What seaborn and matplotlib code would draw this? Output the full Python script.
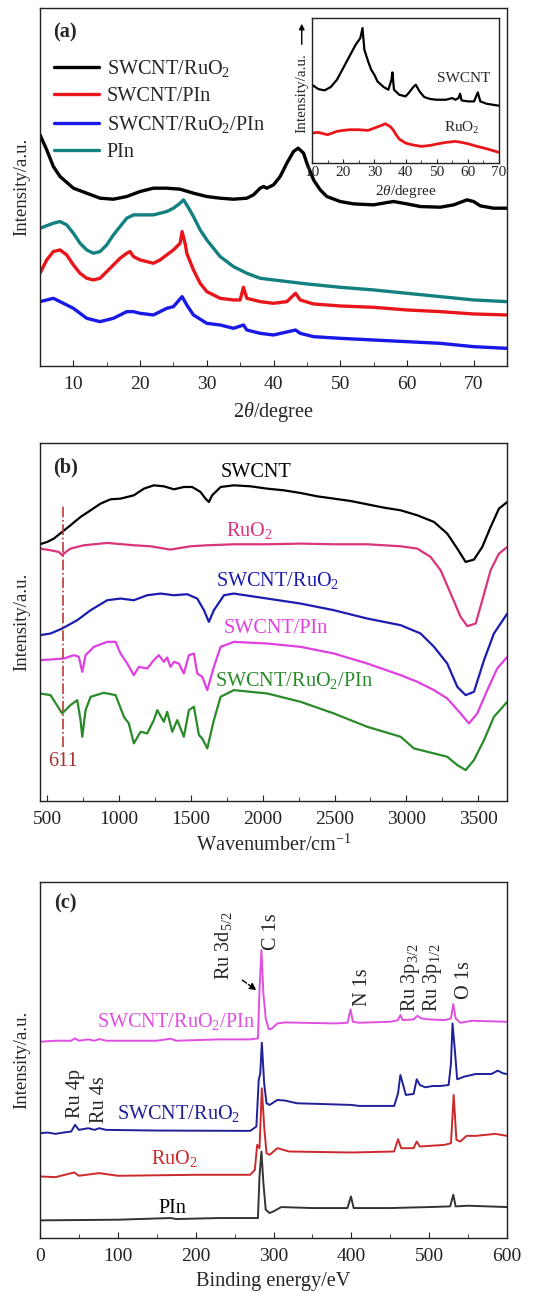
import numpy as np
import pandas as pd
import seaborn as sns
import matplotlib.pyplot as plt
from matplotlib.ticker import MultipleLocator

# ---------------- (a) XRD ----------------
xrd_ruo2_swcnt_x = [5, 6, 7, 8, 10, 12, 14, 16, 18, 20, 22, 24, 26, 28, 30, 32, 34, 36, 37, 38, 38.5, 39, 40, 41, 42,
                    43, 43.7, 44.5, 45, 46, 47, 48, 50, 52, 55, 57, 58, 60, 62, 65, 67, 69, 70, 71, 73, 75]
xrd_ruo2_swcnt_y = [693, 648, 598, 568, 533, 518, 503, 500, 508, 523, 533, 533, 530, 518, 508, 503, 500, 503, 513,
                    533, 538, 533, 543, 568, 608, 643, 653, 638, 608, 558, 528, 508, 493, 486, 483, 490, 493, 486,
                    478, 476, 483, 498, 493, 480, 473, 473]

xrd_pin_x = [5, 7, 8, 9, 10, 11, 12, 13, 14, 15, 16, 17, 18, 19, 20, 22, 24, 25, 26, 26.5, 27, 28, 29, 30, 32, 34,
             36, 38, 40, 45, 50, 55, 60, 65, 70, 75]
xrd_pin_y = [413, 428, 433, 423, 398, 368, 348, 338, 343, 363, 393, 418, 443, 453, 453, 453, 463, 473, 488, 498,
             483, 448, 408, 378, 328, 298, 278, 263, 258, 246, 236, 228, 218, 208, 198, 193]

xrd_swcnt_pin_x = [5, 6, 7, 8, 9, 10, 11, 12, 13, 14, 15, 16, 17, 18, 18.5, 19, 20, 22, 23, 24, 25, 26, 26.3, 26.8,
                   27, 28, 29, 30, 32, 34, 35, 35.5, 36, 38, 40, 42, 43.3, 44, 46, 50, 55, 60, 65, 70, 75]
xrd_swcnt_pin_y = [278, 318, 343, 348, 333, 303, 278, 263, 258, 263, 283, 303, 323, 338, 343, 328, 318, 308, 318,
                   333, 348, 368, 403, 363, 338, 288, 248, 223, 203, 198, 198, 236, 203, 193, 188, 193, 218, 198,
                   186, 180, 176, 168, 163, 156, 153]

xrd_all_x = [5, 7, 8, 10, 12, 14, 16, 18, 19, 20, 22, 24, 25, 26.3, 27, 28, 30, 32, 34, 35.5, 36, 38, 40, 43.3, 44,
             46, 50, 55, 60, 65, 70, 75]
xrd_all_y = [193, 203, 193, 173, 143, 133, 143, 163, 163, 158, 153, 173, 178, 208, 183, 153, 128, 123, 113, 123,
             108, 98, 93, 108, 98, 88, 83, 78, 73, 68, 58, 53]

# inset
inset_swcnt_x = [10, 12, 14, 16, 18, 20, 22, 24, 25.5, 26.2, 26.8, 28, 29, 30, 31, 33, 34.5, 35.5, 35.8, 36.3, 38,
                 40, 41, 42.5, 43.3, 44.5, 46, 48, 50, 53, 55, 56, 57, 57.5, 58, 60, 62, 63.2, 64, 66, 70]
inset_swcnt_y = [235, 222, 218, 228, 250, 285, 320, 355, 375, 405, 340, 305, 280, 265, 245, 228, 220, 250, 272,
                 220, 205, 200, 210, 228, 235, 215, 198, 192, 190, 190, 195, 190, 195, 208, 188, 185, 185, 212,
                 185, 178, 172]
inset_ruo2_x = [10, 12, 15, 18, 20, 22, 25, 28, 30, 32, 33.5, 35, 36, 37, 38, 40, 42, 45, 48, 50, 53, 56, 58, 60,
                63, 66, 70]
inset_ruo2_y = [90, 92, 85, 95, 98, 100, 100, 98, 105, 112, 118, 110, 100, 85, 72, 60, 55, 50, 53, 57, 62, 65, 62,
                58, 50, 43, 32]

# ---------------- (b) FTIR ----------------
ir_swcnt_x = [449, 500, 546, 604, 662, 732, 802, 871, 941, 1010, 1103, 1173, 1242, 1312, 1382, 1451, 1509, 1567,
              1602, 1625, 1648, 1707, 1799, 1915, 2031, 2147, 2263, 2379, 2495, 2611, 2727, 2843, 2960, 3076,
              3192, 3284, 3354, 3412, 3470, 3528, 3586, 3644, 3702]
ir_swcnt_y = [771, 778, 788, 808, 828, 853, 873, 893, 906, 908, 918, 938, 948, 945, 936, 943, 943, 928, 908, 898,
              918, 943, 948, 945, 938, 933, 925, 915, 908, 901, 891, 881, 873, 858, 838, 803, 758, 718, 725, 763,
              823, 878, 898]

ir_ruo2_x = [449, 523, 581, 604, 630, 662, 755, 918, 1103, 1219, 1358, 1498, 1614, 1799, 2031, 2263, 2495, 2727,
             2843, 2960, 3076, 3168, 3238, 3308, 3377, 3424, 3482, 3528, 3586, 3644, 3702]
ir_ruo2_y = [758, 753, 748, 738, 748, 758, 768, 775, 768, 765, 755, 765, 768, 771, 771, 773, 771, 771, 768, 765,
             758, 733, 693, 623, 553, 525, 533, 603, 693, 743, 763]

ir_swcnt_ruo2_x = [449, 523, 604, 709, 802, 918, 1010, 1103, 1196, 1289, 1382, 1475, 1544, 1591, 1625, 1660, 1730,
                   1799, 2031, 2263, 2495, 2727, 2960, 3099, 3192, 3284, 3354, 3412, 3470, 3540, 3609, 3702]
ir_swcnt_ruo2_y = [498, 503, 518, 543, 573, 603, 608, 603, 618, 623, 618, 621, 608, 573, 538, 573, 618, 623, 608,
                   593, 573, 548, 528, 503, 463, 413, 343, 318, 328, 423, 503, 563]

ir_swcnt_pin_x = [449, 523, 616, 686, 720, 744, 767, 825, 918, 976, 1010, 1057, 1103, 1138, 1196, 1242, 1277, 1312,
                  1335, 1358, 1382, 1416, 1451, 1486, 1521, 1544, 1579, 1614, 1660, 1707, 1799, 2031, 2263, 2495,
                  2727, 2960, 3076, 3192, 3284, 3377, 3435, 3493, 3563, 3632, 3702]
ir_swcnt_pin_y = [423, 425, 428, 438, 433, 388, 438, 463, 478, 478, 443, 413, 378, 403, 398, 423, 438, 418, 431,
                  403, 418, 413, 383, 438, 443, 383, 373, 333, 403, 463, 478, 473, 463, 443, 413, 378, 358, 333,
                  308, 263, 233, 263, 333, 398, 433]

ir_all_x = [449, 523, 604, 662, 709, 732, 744, 767, 802, 894, 976, 1034, 1068, 1103, 1150, 1196, 1242, 1266, 1312,
            1335, 1370, 1405, 1451, 1486, 1521, 1556, 1579, 1614, 1660, 1707, 1799, 2031, 2263, 2495, 2727, 2960,
            3052, 3192, 3284, 3354, 3412, 3470, 3540, 3609, 3702]
ir_all_y = [323, 318, 263, 288, 303, 243, 193, 273, 313, 325, 318, 253, 233, 173, 208, 203, 243, 273, 238, 268,
            208, 243, 193, 273, 283, 198, 188, 158, 243, 313, 333, 323, 298, 263, 223, 193, 158, 143, 133, 108,
            93, 123, 183, 253, 298]

ir_mark = 611

# ---------------- (c) XPS ----------------
xps_all_x = [0, 20, 40, 45, 50, 62, 70, 76, 85, 150, 168, 175, 230, 270, 280, 282, 284.5, 287, 290, 294, 298, 305,
             315, 380, 395, 399, 402, 410, 450, 460, 463, 466, 480, 485, 490, 500, 520, 528, 531, 534, 540, 555, 600]
xps_all_y = [590, 593, 593, 600, 593, 597, 593, 598, 593, 593, 599, 593, 597, 597, 600, 745, 865, 735, 660, 627,
             630, 645, 648, 645, 647, 687, 650, 647, 650, 655, 670, 655, 657, 668, 660, 657, 655, 660, 703, 660,
             647, 653, 650]

xps_swcnt_ruo2_x = [0, 10, 20, 30, 40, 45, 50, 62, 70, 76, 85, 150, 270, 278, 281, 283, 285, 288, 291, 295, 305,
                    315, 330, 400, 410, 455, 460, 463, 466, 470, 480, 484, 488, 495, 505, 515, 525, 528, 530, 533,
                    536, 545, 560, 580, 588, 595, 600]
xps_swcnt_ruo2_y = [315, 317, 313, 317, 320, 340, 325, 330, 325, 330, 325, 323, 322, 335, 475, 495, 587, 465, 405,
                    400, 415, 413, 405, 400, 397, 397, 435, 490, 465, 430, 433, 477, 460, 453, 457, 457, 460, 525,
                    645, 565, 477, 485, 493, 493, 503, 495, 493]

xps_ruo2_x = [0, 20, 44, 50, 76, 100, 200, 270, 276, 279, 282, 285, 288, 291, 295, 305, 320, 400, 455, 460, 464,
              480, 484, 488, 520, 528, 531.5, 535, 540, 548, 560, 585, 600]
xps_ruo2_y = [185, 183, 197, 187, 195, 187, 190, 190, 205, 280, 270, 450, 335, 255, 250, 270, 260, 257, 260, 297,
              270, 270, 290, 275, 280, 285, 430, 295, 290, 307, 307, 313, 307]

xps_pin_x = [0, 100, 168, 175, 230, 270, 280, 282, 284.5, 287, 290, 295, 300, 310, 350, 395, 399.5, 403, 450, 500,
             527, 531, 534, 550, 600]
xps_pin_y = [53, 55, 60, 57, 60, 60, 60, 185, 260, 165, 85, 75, 80, 93, 90, 90, 125, 90, 90, 93, 95, 130, 95, 97, 93]

sns.set_style("ticks")
plt.rcParams['font.family'] = ['Liberation Serif', 'DejaVu Serif']
plt.rcParams['mathtext.fontset'] = 'custom'
plt.rcParams['mathtext.rm'] = 'Liberation Serif'
plt.rcParams['mathtext.it'] = 'Liberation Serif:italic'
plt.rcParams['axes.linewidth'] = 1.0
plt.rcParams['axes.edgecolor'] = '#222222'

FS = 14.6   # labels on the curves, axis titles
TS = 14     # tick labels


def style_axis(ax, major, minor, xlim, ylim, xlabel):
    ax.set_xlim(*xlim)
    ax.set_ylim(*ylim)
    ax.set_yticks([])
    ax.xaxis.set_major_locator(MultipleLocator(major))
    ax.xaxis.set_minor_locator(MultipleLocator(minor))
    ax.tick_params(axis='x', which='both', direction='in', top=False, labelsize=TS, colors='#222222', pad=7)
    ax.tick_params(axis='x', which='major', length=4)
    ax.tick_params(axis='x', which='minor', length=3)
    ax.set_xlabel(xlabel, fontsize=FS, labelpad=5)
    ax.set_ylabel("Intensity/a.u.", fontsize=13.5, labelpad=7)
    for s in ax.spines.values():
        s.set_visible(True)


def line(ax, x, y, color, lw, label=None):
    sns.lineplot(x=x, y=y, ax=ax, color=color, lw=lw, label=label, estimator=None, sort=False)


fig = plt.figure(figsize=(5.43, 12.92), dpi=100)

# ---- (a)
ax1 = fig.add_axes([0.0737, 0.7167, 0.86, 0.2771])
line(ax1, xrd_ruo2_swcnt_x, xrd_ruo2_swcnt_y, 'black', 2.4, "SWCNT/RuO$_2$")
line(ax1, xrd_swcnt_pin_x, xrd_swcnt_pin_y, '#e8161b', 2.4, "SWCNT/PIn")
line(ax1, xrd_all_x, xrd_all_y, '#1919e6', 2.4, "SWCNT/RuO$_2$/PIn")
line(ax1, xrd_pin_x, xrd_pin_y, '#138080', 2.4, "PIn")
style_axis(ax1, 10, 5, (5, 75), (0, 1073), r"2$\it{\theta}$/degree")
ax1.legend(loc='upper left', bbox_to_anchor=(0.03, 0.86), frameon=False, fontsize=FS,
           handlelength=2.2, handletextpad=0.4, labelspacing=0.38, borderpad=0, borderaxespad=0)
ax1.text(0.054, 0.933, "(a)", transform=ax1.transAxes, fontsize=FS, fontweight='bold', ha='center', va='center')

axi = fig.add_axes([0.5746, 0.8738, 0.3444, 0.1122])
line(axi, inset_swcnt_x, inset_swcnt_y, 'black', 1.6)
line(axi, inset_ruo2_x, inset_ruo2_y, '#e8161b', 2.0)
axi.set_xlim(10, 70)
axi.set_ylim(0, 435)
axi.set_yticks([])
axi.xaxis.set_major_locator(MultipleLocator(10))
axi.xaxis.set_minor_locator(MultipleLocator(5))
axi.tick_params(axis='x', which='both', direction='in', labelsize=11, pad=2)
axi.tick_params(axis='x', which='major', length=3)
axi.tick_params(axis='x', which='minor', length=2)
axi.set_xlabel(r"2$\it{\theta}$/degree", fontsize=11, labelpad=3)
axi.set_ylabel("")
axi.text(58.5, 253, "SWCNT", fontsize=11, ha='center', va='center')
axi.text(58, 105, "RuO$_2$", fontsize=11, ha='center', va='center')
axi.text(-0.055, 0.48, "Intensity/a.u.", transform=axi.transAxes, rotation=90, fontsize=11,
         ha='center', va='center')
axi.annotate("", xy=(-0.055, 0.98), xytext=(-0.055, 0.8), xycoords='axes fraction',
             arrowprops=dict(arrowstyle='-|>', color='black', lw=1, mutation_scale=8), annotation_clip=False)

# ---- (b)
ax2 = fig.add_axes([0.0737, 0.380, 0.86, 0.2771])
line(ax2, ir_swcnt_x, ir_swcnt_y, 'black', 1.6)
line(ax2, ir_ruo2_x, ir_ruo2_y, '#d9347c', 1.6)
line(ax2, ir_swcnt_ruo2_x, ir_swcnt_ruo2_y, '#1c1cb0', 1.6)
line(ax2, ir_swcnt_pin_x, ir_swcnt_pin_y, '#e040e0', 1.6)
line(ax2, ir_all_x, ir_all_y, '#2a8a2a', 1.6)
ax2.vlines(ir_mark, 163, 888, colors='#b83a3a', linestyles='dashdot', lw=1.2)
ax2.text(ir_mark, 118, str(ir_mark), color='#a83232', fontsize=FS, ha='center', va='center')
style_axis(ax2, 500, 250, (450, 3700), (0, 1075), "Wavenumber/cm$^{-1}$")
ax2.text(1950, 988, "SWCNT", color='black', fontsize=FS, ha='center', va='center')
ax2.text(1904, 813, "RuO$_2$", color='#d9347c', fontsize=FS, ha='center', va='center')
ax2.text(2101, 663, "SWCNT/RuO$_2$", color='#1c1cb0', fontsize=FS, ha='center', va='center')
ax2.text(2089, 518, "SWCNT/PIn", color='#e040e0', fontsize=FS, ha='center', va='center')
ax2.text(2217, 363, "SWCNT/RuO$_2$/PIn", color='#2a8a2a', fontsize=FS, ha='center', va='center')
ax2.text(0.054, 0.933, "(b)", transform=ax2.transAxes, fontsize=FS, fontweight='bold', ha='center', va='center')

# ---- (c)
ax3 = fig.add_axes([0.0737, 0.0418, 0.86, 0.2755])
line(ax3, xps_all_x, xps_all_y, '#e050e0', 1.4)
line(ax3, xps_swcnt_ruo2_x, xps_swcnt_ruo2_y, '#1f1f9a', 1.4)
line(ax3, xps_ruo2_x, xps_ruo2_y, '#cc2a2a', 1.4)
line(ax3, xps_pin_x, xps_pin_y, '#333333', 1.4)
style_axis(ax3, 100, 50, (0, 600), (0, 1070), "Binding energy/eV")
ax3.text(175, 650, "SWCNT/RuO$_2$/PIn", color='#e050e0', fontsize=FS, ha='center', va='center')
ax3.text(178, 375, "SWCNT/RuO$_2$", color='#1f1f9a', fontsize=FS, ha='center', va='center')
ax3.text(173, 240, "RuO$_2$", color='#cc2a2a', fontsize=FS, ha='center', va='center')
ax3.text(170, 90, "PIn", color='black', fontsize=FS, ha='center', va='center')
peak_labels = [("Ru 3d$_{5/2}$", 236, 878), ("C 1s", 298, 920), ("N 1s", 414, 753),
               ("Ru 3p$_{3/2}$", 476, 782), ("Ru 3p$_{1/2}$", 504, 782), ("O 1s", 546, 775),
               ("Ru 4p", 46, 433), ("Ru 4s", 77, 415)]
for txt, px, py in peak_labels:
    ax3.text(px, py, txt, rotation=90, fontsize=FS, ha='center', va='center')
ax3.annotate("", xy=(281, 740), xytext=(257, 780),
             arrowprops=dict(arrowstyle='-|>', color='black', lw=1, ls='--', mutation_scale=10))
ax3.text(0.054, 0.941, "(c)", transform=ax3.transAxes, fontsize=FS, fontweight='bold', ha='center', va='center')

fig.savefig("out.png", dpi=100)
